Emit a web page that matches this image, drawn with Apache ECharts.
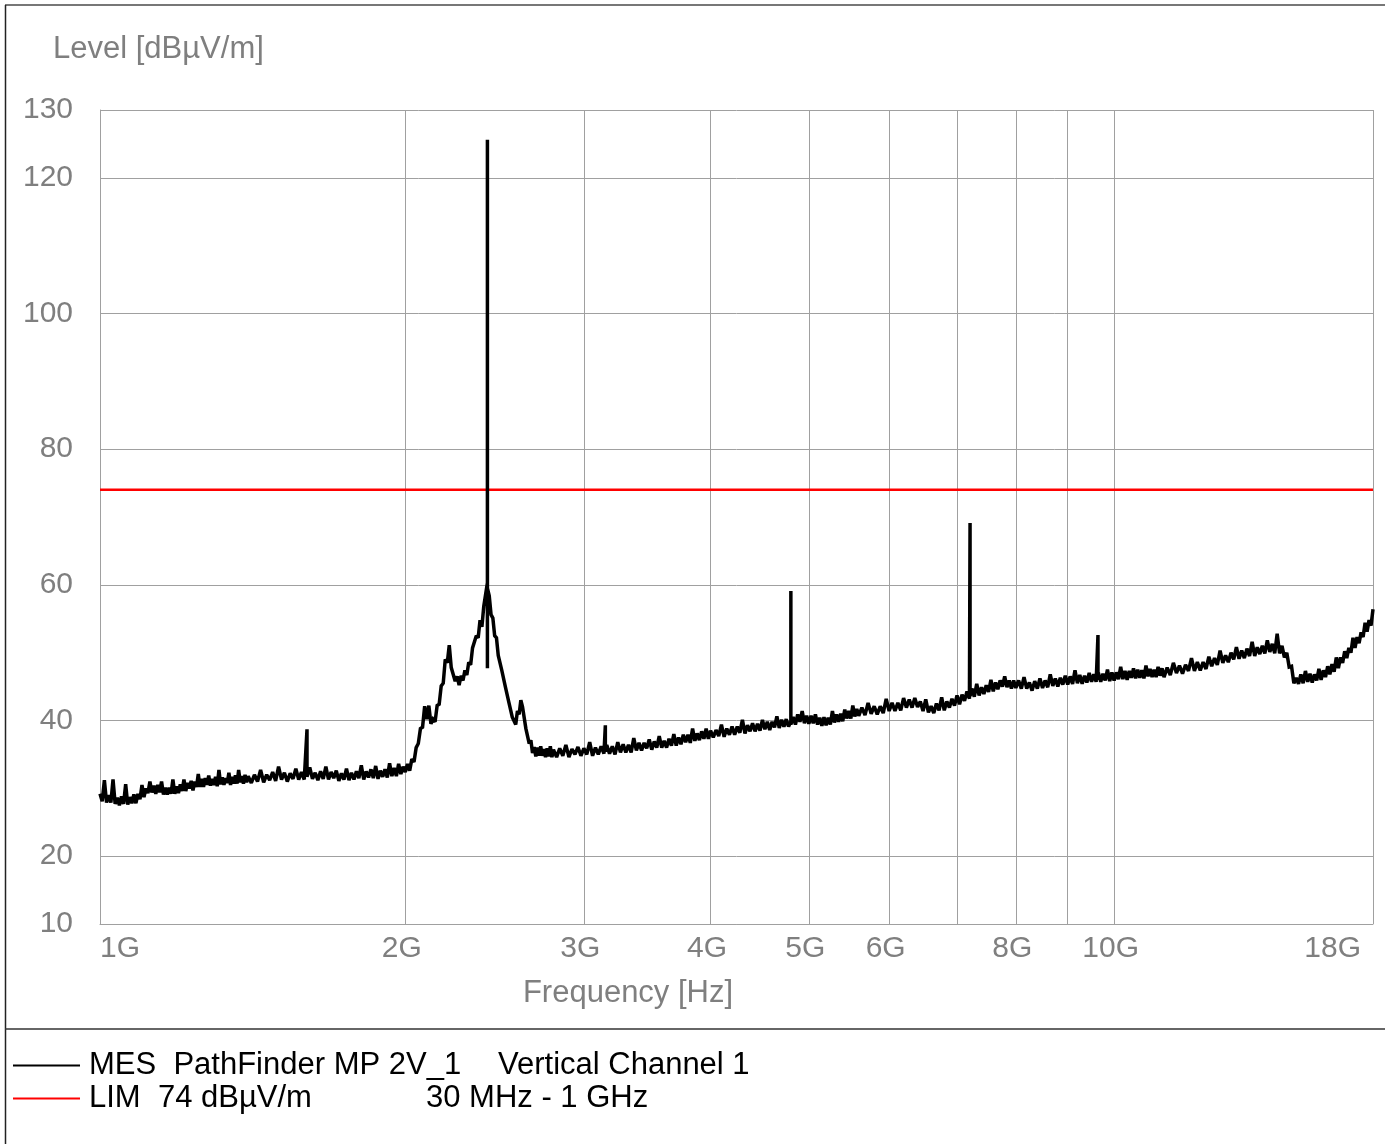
<!DOCTYPE html>
<html>
<head>
<meta charset="utf-8">
<title>PathFinder MP 2V_1 – Vertical Channel 1</title>
<script src="https://cdn.jsdelivr.net/npm/echarts@6/dist/echarts.min.js"></script>
<style>
  html, body { margin: 0; padding: 0; background: #ffffff; }
  #chart { width: 1385px; height: 1144px; }
</style>
</head>
<body>
<div id="chart"></div>
<script>
// Level axis ticks (dBµV/m)
const levelTicks = [10, 20, 40, 60, 80, 100, 120, 130];
// Frequency grid lines and labelled frequencies (GHz)
const freqGridGHz = [1, 2, 3, 4, 5, 6, 7, 8, 9, 10, 18];
const freqLabelGHz = [1, 2, 3, 4, 5, 6, 8, 10, 18];
// Limit line: 74 dBµV/m over the whole span
const limitLevel = 74;
const limitSpanGHz = [1, 18];

// Measured trace [frequency GHz, level dBµV/m]
const mesTrace = [
  // 1.0 - 1.4 GHz
  [1.000,29.2],[1.005,28.1],[1.010,31.2],[1.015,27.9],[1.020,29.0],[1.025,27.9],[1.030,31.3],[1.035,27.7],[1.040,28.6],[1.045,27.5],
  [1.050,28.8],[1.055,27.7],[1.060,30.6],[1.065,27.6],[1.070,28.7],[1.075,27.8],[1.080,29.1],[1.085,27.8],[1.090,29.2],[1.095,28.4],
  [1.100,30.5],[1.105,28.7],[1.110,30.0],[1.115,29.3],[1.120,31.0],[1.125,29.4],[1.130,30.4],[1.135,29.2],[1.140,30.5],[1.145,29.4],
  [1.150,31.0],[1.155,29.1],[1.160,30.1],[1.165,29.1],[1.170,30.1],[1.175,29.2],[1.180,31.3],[1.185,29.2],[1.190,30.3],[1.195,29.3],
  [1.200,30.6],[1.205,29.6],[1.210,31.3],[1.215,29.6],[1.220,30.8],[1.225,30.0],[1.230,31.1],[1.235,29.7],[1.240,31.0],[1.245,30.2],
  [1.250,32.1],[1.255,30.2],[1.260,31.4],[1.265,30.2],[1.270,31.5],[1.275,30.5],[1.280,31.9],[1.285,30.4],[1.290,31.4],[1.295,30.5],
  [1.300,31.7],[1.305,30.3],[1.310,32.7],[1.315,30.6],[1.320,31.6],[1.325,30.5],[1.330,31.5],[1.335,30.8],[1.340,32.3],[1.345,30.5],
  [1.350,31.7],[1.355,30.7],[1.360,31.9],[1.365,30.7],[1.370,32.7],[1.375,30.9],[1.380,31.8],[1.385,30.7],[1.390,32.0],[1.395,30.9],
  [1.400,31.8],
  // 1.4 - 2.0 GHz
  [1.41,30.8],[1.42,32.0],[1.43,31.0],[1.44,32.7],[1.45,30.9],[1.46,32.0],[1.47,31.2],[1.48,32.4],[1.49,31.1],[1.50,33.2],
  [1.51,31.3],[1.52,32.3],[1.53,31.0],[1.54,32.2],[1.55,31.4],[1.56,32.9],[1.57,31.3],[1.58,32.4],[1.59,31.3],
  [1.60,38.7],[1.60,31.7],
  [1.61,33.1],[1.62,31.4],[1.63,32.3],[1.64,31.2],[1.65,32.5],[1.66,31.4],[1.67,33.2],[1.68,31.3],[1.69,32.4],[1.70,31.5],
  [1.71,32.6],[1.72,31.1],[1.73,32.2],[1.74,31.3],[1.75,32.9],[1.76,31.2],[1.77,32.3],[1.78,31.3],[1.79,32.5],[1.80,31.5],
  [1.81,33.4],[1.82,31.3],[1.83,32.5],[1.84,31.6],[1.85,32.8],[1.86,31.5],[1.87,33.3],[1.88,31.4],[1.89,32.6],[1.90,31.7],
  [1.91,32.8],[1.92,31.6],[1.93,33.7],[1.94,31.8],[1.95,33.0],[1.96,31.8],[1.97,33.6],[1.98,32.1],[1.99,33.2],[2.00,32.4],
  // 2.0 - 2.8 GHz
  [2.01,33.6],[2.02,32.6],[2.03,34.3],[2.04,33.9],[2.05,36.0],[2.06,36.6],[2.07,38.8],[2.08,39.0],[2.09,42.1],[2.10,40.2],
  [2.11,42.2],[2.12,39.5],[2.13,40.2],[2.14,39.8],[2.15,42.2],[2.16,42.4],[2.17,45.1],[2.18,45.5],[2.19,49.0],[2.20,48.5],
  [2.21,51.1],[2.22,47.8],[2.23,48.0],[2.24,45.8],[2.25,46.5],[2.26,45.2],[2.27,46.6],[2.28,45.9],[2.29,47.4],[2.30,46.7],
  [2.31,48.6],[2.32,48.2],[2.33,50.7],[2.34,50.5],[2.35,52.5],[2.36,52.2],[2.37,54.8],[2.38,53.8],[2.39,56.8],[2.40,56.9],
  [2.41,60.3],[2.41,125.6],[2.41,47.7],[2.41,59.5],
  [2.42,58.4],[2.43,55.6],[2.44,55.1],[2.45,52.5],[2.46,52.2],[2.47,49.6],[2.48,49.5],[2.49,47.4],[2.50,47.6],
  [2.51,45.0],[2.52,44.9],[2.53,42.7],[2.54,42.9],[2.55,40.5],[2.56,40.6],[2.57,39.4],[2.58,41.4],[2.59,40.9],[2.60,43.0],
  [2.61,42.0],[2.62,42.0],[2.63,38.8],[2.64,38.7],[2.65,36.6],[2.66,37.1],[2.67,35.2],[2.68,36.1],[2.69,34.7],[2.70,36.0],
  [2.71,34.8],[2.72,36.2],[2.73,34.8],[2.74,35.8],[2.75,34.6],[2.76,35.9],[2.77,34.7],[2.78,36.2],[2.79,34.6],[2.80,35.7],
  // 2.8 - 4.0 GHz
  [2.82,34.6],[2.84,35.9],[2.86,34.8],[2.88,36.4],[2.90,34.6],[2.92,35.8],[2.94,35.0],[2.96,36.1],[2.98,34.8],[3.00,35.9],
  [3.02,35.0],[3.04,36.8],[3.06,34.8],[3.08,36.0],[3.10,35.0],[3.12,36.2],[3.14,35.1],
  [3.15,39.3],[3.15,35.4],
  [3.16,36.4],[3.18,35.1],[3.20,36.2],[3.22,35.0],[3.24,36.8],[3.26,35.3],[3.28,36.5],[3.30,35.3],[3.32,36.4],[3.34,35.3],
  [3.36,37.4],[3.38,35.6],[3.40,36.7],[3.42,35.6],[3.44,36.7],[3.46,35.9],[3.48,37.2],[3.50,35.7],[3.52,36.9],[3.54,36.0],
  [3.56,37.7],[3.58,36.0],[3.60,37.0],[3.62,36.0],[3.64,37.3],[3.66,36.3],[3.68,38.0],[3.70,36.3],[3.72,37.5],[3.74,36.5],
  [3.76,37.9],[3.78,36.8],[3.80,37.9],[3.82,36.7],[3.84,38.8],[3.86,37.0],[3.88,38.1],[3.90,37.1],[3.92,38.4],[3.94,37.3],
  [3.96,38.8],[3.98,37.3],[4.00,38.5],
  // 4.0 - 5.6 GHz
  [4.025,37.5],[4.050,38.6],[4.075,37.7],[4.100,39.4],[4.125,37.6],[4.150,38.8],[4.175,37.9],[4.200,39.1],[4.225,37.9],[4.250,39.1],
  [4.275,38.2],[4.300,40.1],[4.325,38.1],[4.350,39.3],[4.375,38.4],[4.400,39.6],[4.425,38.4],[4.450,39.5],[4.475,38.5],[4.500,40.1],
  [4.525,38.7],[4.550,39.8],[4.575,38.6],[4.600,39.8],[4.625,39.0],[4.650,40.6],[4.675,38.9],[4.700,40.1],[4.725,39.1],[4.750,40.2],
  [4.775,39.1],
  [4.80,39.9],[4.80,59.1],[4.80,39.4],
  [4.825,40.5],[4.850,39.4],[4.875,40.9],[4.900,39.8],[4.925,41.4],[4.950,39.6],[4.975,40.7],[5.000,39.5],[5.025,40.7],[5.050,39.6],
  [5.075,40.9],[5.100,39.4],[5.125,40.4],[5.150,39.2],[5.175,40.5],[5.200,39.3],[5.225,40.4],[5.250,39.4],[5.275,41.4],[5.300,39.7],
  [5.325,40.9],[5.350,39.8],[5.375,41.0],[5.400,39.9],[5.425,41.6],[5.450,40.3],[5.475,41.4],[5.500,40.3],[5.525,42.2],[5.550,40.6],
  [5.575,41.7],[5.600,40.7],
  // 5.6 - 8.0 GHz
  [5.64,41.9],[5.68,40.8],[5.72,42.6],[5.76,41.0],[5.80,42.1],[5.84,40.9],[5.88,42.1],[5.92,41.1],[5.96,43.2],[6.00,41.4],
  [6.04,42.6],[6.08,41.4],[6.12,42.6],[6.16,41.5],[6.20,43.3],[6.24,41.9],[6.28,43.1],[6.32,41.9],[6.36,43.3],[6.40,42.0],
  [6.44,42.8],[6.48,41.4],[6.52,43.1],[6.56,41.2],[6.60,42.1],[6.64,41.1],[6.68,42.5],[6.72,41.5],[6.76,43.4],[6.80,41.5],
  [6.84,42.8],[6.88,41.9],[6.92,43.2],[6.96,42.2],[7.00,43.7],[7.04,42.4],[7.08,43.8],[7.12,42.9],[7.16,44.3],[7.20,43.2],
  [7.21,69.1],[7.21,43.6],
  [7.24,44.7],[7.28,43.5],[7.32,45.4],[7.36,43.7],[7.40,44.9],[7.44,43.9],[7.48,45.2],[7.52,44.2],[7.56,46.0],[7.60,44.3],
  [7.64,45.6],[7.68,44.6],[7.72,45.9],[7.76,45.0],[7.80,46.5],[7.84,44.9],[7.88,45.9],[7.92,44.7],[7.96,45.9],[8.00,44.8],
  // 8.0 - 11.2 GHz
  [8.05,45.9],[8.10,44.7],[8.15,46.4],[8.20,44.7],[8.25,45.6],[8.30,44.4],[8.35,45.8],[8.40,44.7],[8.45,46.2],[8.50,44.8],
  [8.55,45.9],[8.60,44.9],[8.65,46.8],[8.70,45.1],[8.75,46.2],[8.80,45.0],[8.85,46.3],[8.90,45.3],[8.95,46.6],[9.00,45.3],
  [9.05,46.5],[9.10,45.4],[9.15,47.4],[9.20,45.5],[9.25,46.7],[9.30,45.4],[9.35,46.6],[9.40,45.6],[9.45,47.0],[9.50,45.7],
  [9.55,46.8],[9.60,45.7],
  [9.64,52.6],[9.64,46.0],
  [9.65,47.0],[9.70,45.7],[9.75,46.9],[9.80,45.9],[9.85,47.5],[9.90,45.8],[9.95,47.1],[10.00,45.9],[10.05,47.1],[10.10,46.1],
  [10.15,47.9],[10.20,46.1],[10.25,47.3],[10.30,46.0],[10.35,47.3],[10.40,46.3],[10.45,47.7],[10.50,46.2],[10.55,47.5],[10.60,46.3],
  [10.65,47.4],[10.70,46.2],[10.75,48.1],[10.80,46.5],[10.85,47.6],[10.90,46.4],[10.95,47.5],[11.00,46.4],[11.05,47.9],[11.10,46.6],
  [11.15,47.7],[11.20,46.4],
  // 11.2 - 18.0 GHz
  [11.28,47.8],[11.36,46.7],[11.44,48.5],[11.52,47.0],[11.60,48.1],[11.68,46.9],[11.76,48.2],[11.84,47.3],[11.92,49.2],[12.00,47.3],
  [12.08,48.6],[12.16,47.4],[12.24,48.6],[12.32,47.6],[12.40,49.4],[12.48,48.0],[12.56,49.2],[12.64,48.2],[12.72,50.3],[12.80,48.5],
  [12.88,49.6],[12.96,48.6],[13.04,50.0],[13.12,49.0],[13.20,50.8],[13.28,49.1],[13.36,50.3],[13.44,49.2],[13.52,50.6],[13.60,49.5],
  [13.68,51.6],[13.76,49.5],[13.84,50.8],[13.92,49.8],[14.00,51.0],[14.08,49.9],[14.16,51.8],[14.24,50.1],[14.32,51.3],[14.40,49.9],
  [14.48,52.8],[14.56,49.9],[14.64,51.0],[14.72,49.3],[14.80,50.0],[14.88,47.9],[14.96,48.0],[15.04,45.5],[15.12,46.3],[15.20,45.4],
  [15.28,46.8],[15.36,45.5],[15.44,47.3],[15.52,45.7],[15.60,46.9],[15.68,45.6],[15.76,46.8],[15.84,45.9],[15.92,47.6],[16.00,46.0],
  [16.08,47.4],[16.16,46.4],[16.24,48.0],[16.32,46.8],[16.40,48.3],[16.48,47.2],[16.56,49.3],[16.64,47.7],[16.72,49.3],[16.80,48.5],
  [16.88,50.2],[16.96,49.2],[17.04,50.7],[17.12,50.0],[17.20,52.2],[17.28,50.7],[17.36,52.3],[17.44,51.4],[17.52,53.0],[17.60,52.3],
  [17.68,54.4],[17.76,53.1],[17.84,54.8],[17.92,54.0],[18.00,56.4]
];

const mesName = 'MES  PathFinder MP 2V_1';
const limName = 'LIM  74 dBµV/m';
const legendNotes = {
  [mesName]: 'Vertical Channel 1',
  [limName]: '30 MHz - 1 GHz'
};

const FONT = "'Liberation Sans', Arial, sans-serif";
const GRID_COLOR = '#a0a0a0';
const TEXT_GRAY = '#7f7f7f';

const chart = echarts.init(document.getElementById('chart'), null, { renderer: 'canvas' });

chart.setOption({
  animation: false,
  backgroundColor: '#ffffff',
  textStyle: { fontFamily: FONT },
  grid: { left: 100, right: 12, top: 110, bottom: 220 },
  xAxis: {
    type: 'log',
    logBase: 10,
    min: limitSpanGHz[0],
    max: limitSpanGHz[1],
    axisLine: { show: true, lineStyle: { color: GRID_COLOR, width: 1 } },
    axisTick: { show: false, customValues: freqGridGHz },
    splitLine: { show: true, lineStyle: { color: GRID_COLOR, width: 1 } },
    axisLabel: {
      customValues: freqLabelGHz,
      color: TEXT_GRAY,
      fontSize: 30,
      fontFamily: FONT,
      margin: 10,
      alignMinLabel: 'left',
      alignMaxLabel: 'right',
      formatter: v => (v === 18 ? '{r|18G}' : '{c|' + v + 'G}'),
      rich: {
        r: { color: TEXT_GRAY, fontSize: 30, fontFamily: FONT, padding: [0, 12, 0, 0] },
        c: { color: TEXT_GRAY, fontSize: 30, fontFamily: FONT, padding: [0, 7, 0, 0] }
      }
    }
  },
  yAxis: {
    type: 'value',
    min: 10,
    max: 130,
    axisLine: { show: true, lineStyle: { color: GRID_COLOR, width: 1 } },
    axisTick: { show: false, customValues: levelTicks },
    splitLine: { show: true, lineStyle: { color: GRID_COLOR, width: 1 } },
    axisLabel: {
      customValues: levelTicks,
      color: TEXT_GRAY,
      fontSize: 30,
      fontFamily: FONT,
      margin: 27
    }
  },
  legend: {
    orient: 'vertical',
    left: 13,
    top: 1049,
    padding: 0,
    itemWidth: 67,
    itemHeight: 2,
    itemGap: 0,
    itemTextGap: 13,
    icon: 'rect',
    selectedMode: false,
    data: [mesName, limName],
    formatter: name => (name === mesName
      ? '{a|' + name + '}{b|' + legendNotes[name] + '}'
      : '{c|' + name + '}{b|' + legendNotes[name] + '}'),
    textStyle: {
      color: '#000000',
      fontSize: 31,
      fontFamily: FONT,
      lineHeight: 33,
      rich: {
        a: { width: 409, padding: [0, 0, 0, 4], fontSize: 31, fontFamily: FONT, color: '#000000', lineHeight: 33 },
        c: { width: 337, padding: [0, 0, 0, 4], fontSize: 31, fontFamily: FONT, color: '#000000', lineHeight: 33 },
        b: { fontSize: 31, fontFamily: FONT, color: '#000000', lineHeight: 33 }
      }
    }
  },
  graphic: [
    // outer frame and legend separator
    { type: 'line', shape: { x1: 5, y1: 5, x2: 1385, y2: 5 }, style: { stroke: '#777777', lineWidth: 2 } },
    { type: 'line', shape: { x1: 5.5, y1: 5, x2: 5.5, y2: 1144 }, style: { stroke: '#222222', lineWidth: 1.5 } },
    { type: 'line', shape: { x1: 5, y1: 1029, x2: 1385, y2: 1029 }, style: { stroke: '#333333', lineWidth: 1.5 } },
    // axis titles
    {
      type: 'text', left: 53, top: 34,
      style: { text: 'Level [dBµV/m]', fill: TEXT_GRAY, fontSize: 31, fontFamily: FONT }
    },
    {
      type: 'text', x: 628, y: 993,
      style: { text: 'Frequency [Hz]', fill: TEXT_GRAY, fontSize: 31, fontFamily: FONT, align: 'center', verticalAlign: 'middle' }
    }
  ],
  series: [
    {
      name: mesName,
      type: 'line',
      data: mesTrace,
      color: '#000000',
      showSymbol: false,
      symbol: 'none',
      sampling: null,
      lineStyle: { color: '#000000', width: 3.5, join: 'miter', miterLimit: 2 },
      z: 3
    },
    {
      name: limName,
      type: 'line',
      data: limitSpanGHz.map(f => [f, limitLevel]),
      color: '#ff0000',
      showSymbol: false,
      symbol: 'none',
      lineStyle: { color: '#ff0000', width: 2.5 },
      z: 2
    }
  ]
});
</script>
</body>
</html>
